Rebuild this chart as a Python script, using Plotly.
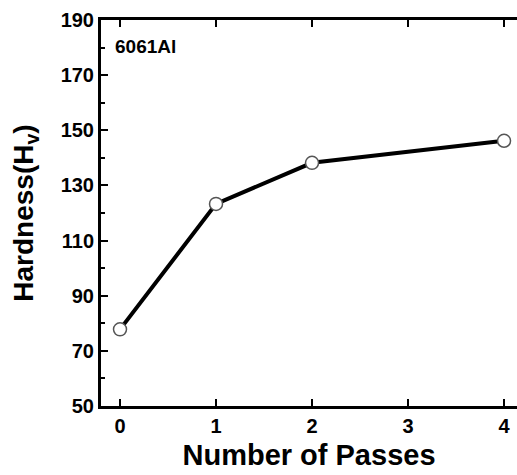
import plotly.graph_objects as go

passes = [0, 1, 2, 4]
hardness = [77.8, 123.3, 138.2, 146.2]
x_ticks = [0, 1, 2, 3, 4]
y_ticks = [50, 70, 90, 110, 130, 150, 170, 190]

FONT = "Liberation Sans, Arial, sans-serif"

fig = go.Figure()
fig.add_trace(go.Scatter(
    x=passes, y=hardness, mode="lines+markers",
    line=dict(color="black", width=4),
    marker=dict(symbol="circle", size=13, color="white",
                line=dict(color="#555555", width=1.5)),
    showlegend=False,
))

fig.add_annotation(text="6061Al", x=0, y=1, xref="paper", yref="paper",
                   xanchor="left", yanchor="top", xshift=12, yshift=-14,
                   showarrow=False,
                   font=dict(family=FONT, size=19, color="black", weight="bold"))

axis_common = dict(
    showline=True, linecolor="black", linewidth=3,
    ticks="inside", ticklen=7, tickwidth=2, tickcolor="black",
    showgrid=False, zeroline=False,
    tickfont=dict(family=FONT, size=20, color="black", weight="bold"),
)

fig.update_xaxes(
    range=[-0.198, 4.135], tickvals=x_ticks, ticktext=[str(v) for v in x_ticks],
    mirror="ticks",
    title=dict(text="Number of Passes", standoff=9,
               font=dict(family=FONT, size=29, color="black", weight="bold")),
    **axis_common,
)
fig.update_yaxes(
    range=[50, 190], tickvals=y_ticks, ticktext=[str(v) for v in y_ticks],
    minor=dict(dtick=10, tick0=50, ticks="inside", ticklen=4, tickwidth=2, tickcolor="black"),
    title=dict(text="Hardness(H<sub>v</sub>)", standoff=19,
               font=dict(family=FONT, size=28, color="black", weight="bold")),
    **axis_common,
)

fig.update_layout(
    width=517, height=475,
    margin=dict(l=101, r=0, t=20, b=69),
    plot_bgcolor="white", paper_bgcolor="white",
)

fig.write_html("out.html")
